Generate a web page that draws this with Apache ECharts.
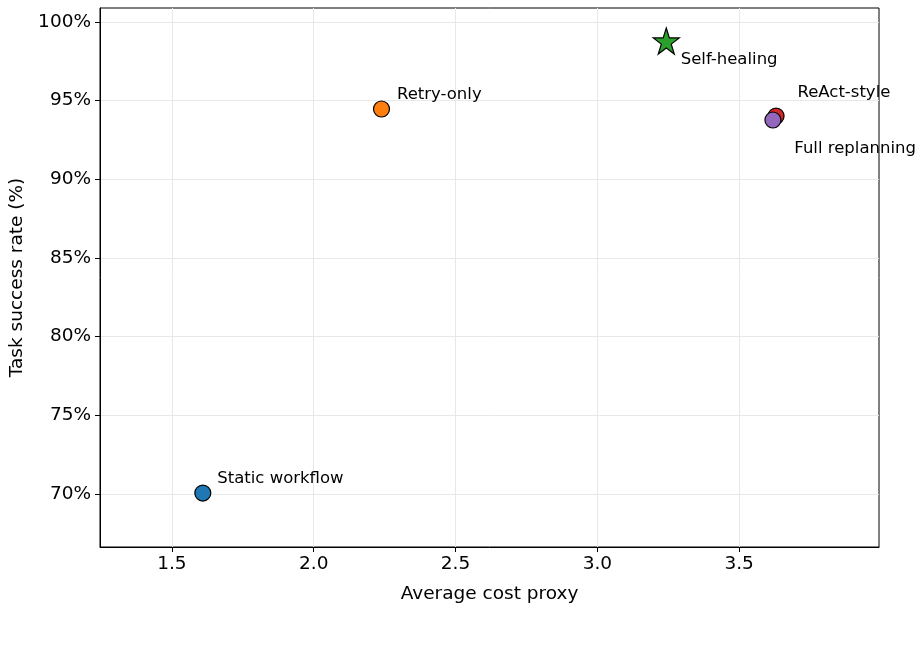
<!DOCTYPE html>
<html>
<head>
<meta charset="utf-8">
<script src="https://cdn.jsdelivr.net/npm/echarts@6/dist/echarts.min.js"></script>
<style>
  html, body { margin: 0; padding: 0; background: #fff; }
  #chart { width: 923px; height: 649px; }
</style>
</head>
<body>
<div id="chart"></div>
<script>
// methods, cost and success rate
const methods = ['Static workflow', 'Retry-only', 'Self-healing', 'ReAct-style', 'Full replanning'];
const costProxy = [1.609, 2.239, 3.243, 3.630, 3.619];
const successRate = [70.06, 94.47, 98.79, 94.02, 93.77];
const colors = ['#1f77b4', '#ff7f0e', '#2ca02c', '#d62728', '#9467bd'];
const xTicks = [1.5, 2.0, 2.5, 3.0, 3.5];
const yTicks = [70, 75, 80, 85, 90, 95, 100];

// label offsets from point center (px)
const labelOffsets = [[15, -14], [16, -14], [15, 19], [22, -23], [22, 29]];

const starPath = 'path://M50,0 L61.8,36.2 L100,36.2 L69.1,58.8 L80.9,95.1 L50,72.7 L19.1,95.1 L30.9,58.8 L0,36.2 L38.2,36.2 Z';

const font = 'DejaVu Sans';

const series = methods.map((name, i) => {
  const isStar = name === 'Self-healing';
  const size = isStar ? 26 : 16;
  return {
    name,
    type: 'scatter',
    z: isStar ? 5 : (name === 'Full replanning' ? 4 : 3),
    symbol: isStar ? starPath : 'circle',
    symbolSize: size,
    itemStyle: { color: colors[i], borderColor: '#000', borderWidth: 1.2, opacity: 1 },
    label: {
      show: true,
      formatter: name,
      position: [size / 2 + labelOffsets[i][0], size / 2 + labelOffsets[i][1]],
      align: 'left',
      verticalAlign: 'middle',
      fontFamily: font,
      fontSize: 16.5,
      color: '#000'
    },
    data: [[costProxy[i], successRate[i]]]
  };
});

const chart = echarts.init(document.getElementById('chart'));
chart.setOption({
  animation: false,
  backgroundColor: '#fff',
  grid: {
    left: 99, top: 8, width: 780, height: 539,
    show: true, borderColor: '#000', borderWidth: 1
  },
  xAxis: {
    type: 'value',
    min: 1.2465,
    max: 3.993,
    name: 'Average cost proxy',
    nameLocation: 'middle',
    nameGap: 38,
    nameTextStyle: { fontFamily: font, fontSize: 18.5, color: '#000' },
    axisLine: { show: true, lineStyle: { color: '#000', width: 1 } },
    axisTick: { show: true, customValues: xTicks, length: 5, lineStyle: { color: '#000' } },
    axisLabel: {
      customValues: xTicks,
      formatter: v => v.toFixed(1),
      fontFamily: font, fontSize: 18.5, color: '#000', margin: 8
    },
    splitLine: { show: true, lineStyle: { color: '#e8e8e8', width: 1 } }
  },
  yAxis: {
    type: 'value',
    min: 66.63,
    max: 100.89,
    name: 'Task success rate (%)',
    nameLocation: 'middle',
    nameGap: 73,
    nameTextStyle: { fontFamily: font, fontSize: 18.5, color: '#000' },
    axisLine: { show: true, lineStyle: { color: '#000', width: 1 } },
    axisTick: { show: true, customValues: yTicks, length: 5, lineStyle: { color: '#000' } },
    axisLabel: {
      customValues: yTicks,
      formatter: v => v + '%',
      fontFamily: font, fontSize: 18.5, color: '#000', margin: 9
    },
    splitLine: { show: true, lineStyle: { color: '#e8e8e8', width: 1 } }
  },
  series
});
</script>
</body>
</html>
